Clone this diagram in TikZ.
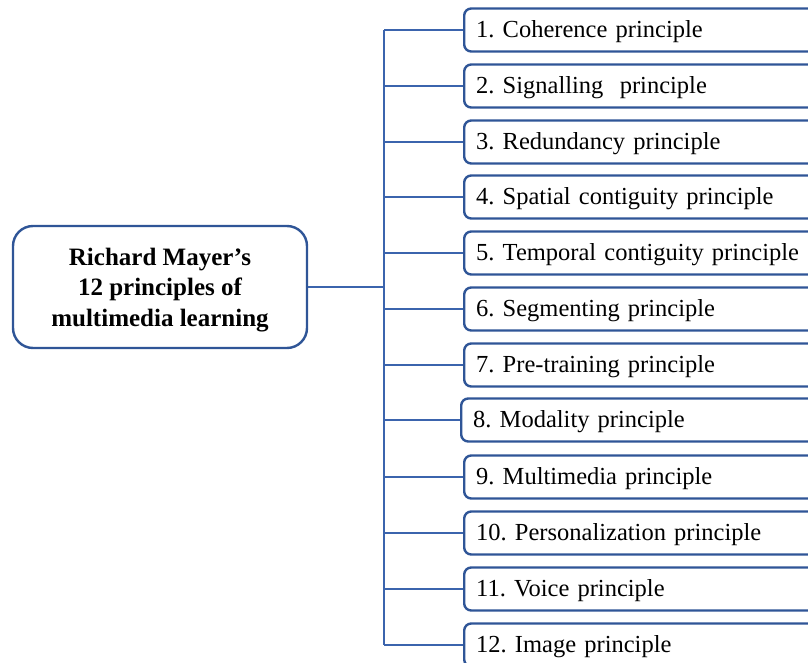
\documentclass[tikz,border=0pt]{standalone}
\usepackage{fontspec}
\setmainfont{Liberation Serif}
\frenchspacing
\definecolor{boxblue}{HTML}{2F5597}
\definecolor{lineblue}{HTML}{3B64AD}
\begin{document}
\begin{tikzpicture}[x=1pt,y=-1pt,
  itembox/.style={draw=boxblue,line width=2.4pt,rounded corners=7pt,fill=white,
    minimum width=380pt,minimum height=43pt,anchor=west,inner xsep=12pt,
    text width=356pt,align=left,text height=17pt,text depth=2pt,
    font=\fontsize{24.5}{28}\selectfont},
  mainbox/.style={draw=boxblue,line width=2.4pt,rounded corners=20pt,fill=white,
    minimum width=294pt,minimum height=122pt},
  maintext/.style={align=center,font=\bfseries\fontsize{25}{30.5}\selectfont},
  conn/.style={draw=lineblue,line width=2pt}]
\useasboundingbox (0,0) rectangle (808,663);
\clip (0,0) rectangle (808,663);
\node[mainbox] (main) at (160,287) {};
\node[maintext] (mainlabel) at (160,290) {Richard Mayer’s\\12 principles of\\multimedia learning};
\coordinate (hub) at (384,287);
\foreach \i/\t/\x/\y in {
  1/{1. Coherence principle}/463/30,
  2/{2. Signalling\ \ principle}/463/86,
  3/{3. Redundancy principle}/463/142,
  4/{4. Spatial contiguity principle}/463/197,
  5/{5. Temporal contiguity principle}/463/253,
  6/{6. Segmenting principle}/463/309,
  7/{7. Pre-training principle}/463/365,
  8/{8. Modality principle}/460/420,
  9/{9. Multimedia principle}/463/477,
  10/{10. Personalization principle}/463/533,
  11/{11. Voice principle}/463/589,
  12/{12. Image principle}/463/645}{
  \node[itembox] (b\i) at (\x,\y) {\t};
  \draw[conn] (hub |- b\i.west) -- (b\i.west);
}
\draw[conn] (hub |- b1.west) -- (hub |- b12.west);
\draw[conn] (main.east) -- (hub);
\end{tikzpicture}
\end{document}
